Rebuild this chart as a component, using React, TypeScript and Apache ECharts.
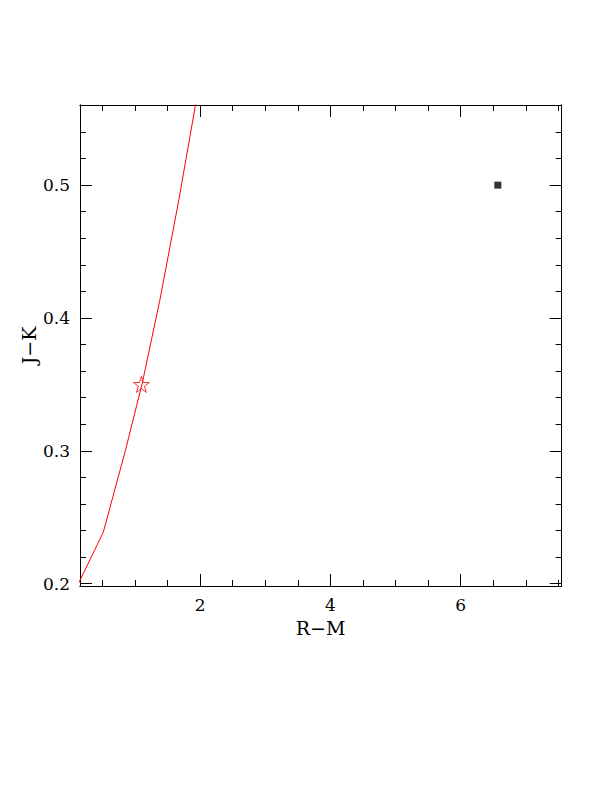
import React, { useEffect, useRef } from "react";
import * as echarts from "echarts";

// Model track (R-M vs J-K)
const trackRM = [0.1, 0.163, 0.515, 0.855, 1.112, 1.383, 1.674, 1.93, 2.0];
const trackJK = [0.197, 0.2031, 0.2387, 0.3003, 0.3506, 0.4133, 0.4887, 0.5603, 0.58];
// Star marker on the track
const starRM = [1.1];
const starJK = [0.35];
// Observed point
const obsRM = [6.57];
const obsJK = [0.5];

const xMajor = [2, 4, 6];
const xMinor = [0.5, 1, 1.5, 2.5, 3, 3.5, 4.5, 5, 5.5, 6.5, 7, 7.5];
const yMajor = [0.2, 0.3, 0.4, 0.5];
const yMinor = [0.22, 0.24, 0.26, 0.28, 0.32, 0.34, 0.36, 0.38, 0.42, 0.44, 0.46, 0.48, 0.52, 0.54, 0.56];

const X_MIN = 0.158;
const X_MAX = 7.55;
const Y_MIN = 0.1983;
const Y_MAX = 0.5603;

const STAR =
  "path://M50,0 L61.8,36.2 L100,36.2 L69.1,58.8 L80.9,95.1 L50,72.7 L19.1,95.1 L30.9,58.8 L0,36.2 L38.2,36.2 Z";

const FONT = "DejaVu Serif";

export default function App() {
  const ref = useRef<HTMLDivElement>(null);
  useEffect(() => {
    if (!ref.current) return;
    const chart = echarts.init(ref.current, undefined, { renderer: "svg" });
    const line = { show: true, lineStyle: { color: "#000", width: 1 } };
    const mkX = (pos: string, vals: number[], len: number, labels: boolean) => ({
      type: "value",
      position: pos,
      min: X_MIN,
      max: X_MAX,
      axisLine: line,
      splitLine: { show: false },
      axisTick: { show: true, inside: true, length: len, customValues: vals, lineStyle: { color: "#000", width: 1 } },
      axisLabel: labels
        ? { show: true, customValues: vals, margin: 10, fontSize: 17, fontFamily: FONT, color: "#000", formatter: (v: number) => String(Math.round(v)) }
        : { show: false },
    });
    const mkY = (pos: string, vals: number[], len: number, labels: boolean) => ({
      type: "value",
      position: pos,
      min: Y_MIN,
      max: Y_MAX,
      axisLine: line,
      splitLine: { show: false },
      axisTick: { show: true, inside: true, length: len, customValues: vals, lineStyle: { color: "#000", width: 1 } },
      axisLabel: labels
        ? { show: true, customValues: vals, margin: 10, fontSize: 17, fontFamily: FONT, color: "#000", formatter: (v: number) => v.toFixed(1) }
        : { show: false },
    });
    chart.setOption({
      animation: false,
      backgroundColor: "#fff",
      grid: { left: 80, top: 105, width: 481.7, height: 481, containLabel: false },
      xAxis: [
        mkX("bottom", xMajor, 12, true),
        mkX("bottom", xMinor, 6, false),
        mkX("top", xMajor, 12, false),
        mkX("top", xMinor, 6, false),
      ],
      yAxis: [
        mkY("left", yMajor, 12, true),
        mkY("left", yMinor, 6, false),
        mkY("right", yMajor, 12, false),
        mkY("right", yMinor, 6, false),
      ],
      graphic: [
        {
          type: "text",
          x: 320.5,
          y: 628,
          style: { text: "R−M", fontSize: 19, fontFamily: FONT, fill: "#000", align: "center", verticalAlign: "middle" },
        },
        {
          type: "text",
          x: 29,
          y: 345.5,
          rotation: Math.PI / 2,
          style: { text: "J−K", fontSize: 19, fontFamily: FONT, fill: "#000", align: "center", verticalAlign: "middle" },
        },
      ],
      series: [
        {
          type: "line",
          data: trackRM.map((x, i) => [x, trackJK[i]]),
          showSymbol: false,
          clip: true,
          lineStyle: { color: "#ff0000", width: 1 },
          silent: true,
        },
        {
          type: "scatter",
          data: starRM.map((x, i) => [x, starJK[i]]),
          symbol: STAR,
          symbolSize: 16,
          itemStyle: { color: "rgba(0,0,0,0)", borderColor: "#ff0000", borderWidth: 1 },
        },
        {
          type: "scatter",
          data: obsRM.map((x, i) => [x, obsJK[i]]),
          symbol: "rect",
          symbolSize: 7,
          itemStyle: { color: "#000" },
        },
      ],
    });
    return () => chart.dispose();
  }, []);
  return <div ref={ref} style={{ position: "fixed", left: 0, top: 0, width: 612, height: 792 }} />;
}
